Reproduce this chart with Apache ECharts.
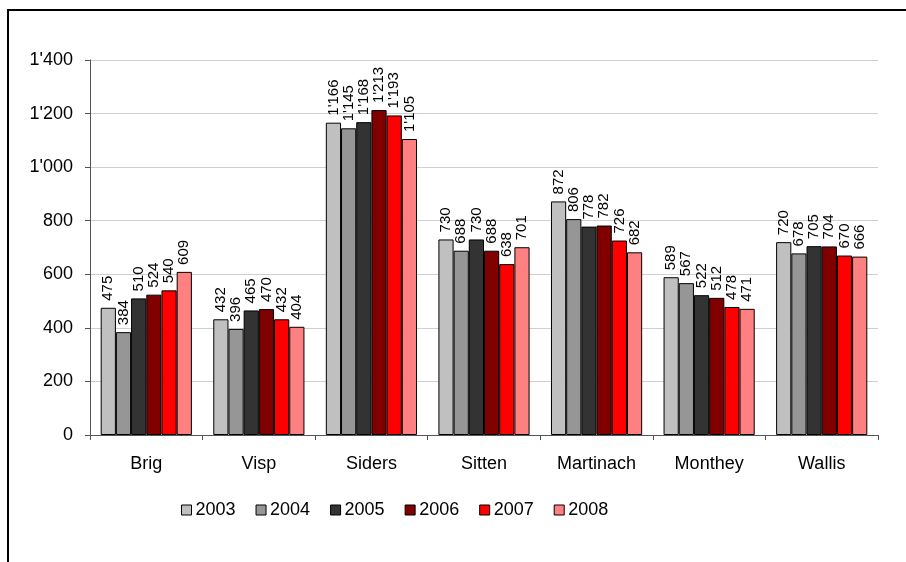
<!DOCTYPE html>
<html>
<head>
<meta charset="utf-8">
<script src="https://cdn.jsdelivr.net/npm/echarts@6/dist/echarts.min.js"></script>
<style>
  html, body { margin: 0; padding: 0; background: #fff; }
  #chart { width: 906px; height: 562px; }
</style>
</head>
<body>
<div id="chart"></div>
<script>
// Regions (x axis)
const regions = ['Brig', 'Visp', 'Siders', 'Sitten', 'Martinach', 'Monthey', 'Wallis'];

// Years (legend)
const years = ['2003', '2004', '2005', '2006', '2007', '2008'];

// Values per year, one entry per region
const v2003 = [475, 432, 1166, 730, 872, 589, 720];
const v2004 = [384, 396, 1145, 688, 806, 567, 678];
const v2005 = [510, 465, 1168, 730, 778, 522, 705];
const v2006 = [524, 470, 1213, 688, 782, 512, 704];
const v2007 = [540, 432, 1193, 638, 726, 478, 670];
const v2008 = [609, 404, 1105, 701, 682, 471, 666];

const yearColors = ['#c0c0c0', '#969696', '#333333', '#800000', '#ff0000', '#ff8080'];

// 1'234 style thousands separator
function fmt(n) {
  return String(n).replace(/\B(?=(\d{3})+(?!\d))/g, "'");
}

const allValues = [v2003, v2004, v2005, v2006, v2007, v2008];

const chart = echarts.init(document.getElementById('chart'), null, { renderer: 'canvas' });

const series = years.map((y, i) => ({
  name: y,
  type: 'bar',
  data: allValues[i],
  barGap: '0%',
  barCategoryGap: '19%',
  itemStyle: {
    color: yearColors[i],
    borderColor: '#000',
    borderWidth: 1
  },
  label: {
    show: true,
    position: 'top',
    rotate: 90,
    align: 'left',
    verticalAlign: 'middle',
    distance: 7,
    fontFamily: 'Liberation Sans, Arial, sans-serif',
    fontSize: 15,
    color: '#000',
    formatter: p => fmt(p.value)
  }
}));

const option = {
  backgroundColor: '#fff',
  animation: false,
  graphic: [
    {
      type: 'rect',
      shape: { x: 8, y: 10, width: 2000, height: 2000 },
      style: { fill: 'none', stroke: '#000', lineWidth: 2 },
      z: 100
    }
  ],
  legend: {
    data: years,
    left: 176,
    top: 496,
    itemWidth: 10,
    itemHeight: 10,
    itemGap: 20,
    icon: 'rect',
    itemStyle: { borderColor: '#000', borderWidth: 1 },
    textStyle: {
      fontFamily: 'Liberation Sans, Arial, sans-serif',
      fontSize: 18,
      color: '#000',
      padding: [0, 0, 0, -1]
    }
  },
  grid: {
    left: 90,
    right: 28,
    top: 60,
    bottom: 127,
    containLabel: false
  },
  xAxis: {
    type: 'category',
    data: regions,
    axisLine: { lineStyle: { color: '#555', width: 1 } },
    axisTick: { show: true, length: 5, lineStyle: { color: '#555' } },
    axisLabel: {
      margin: 20,
      fontFamily: 'Liberation Sans, Arial, sans-serif',
      fontSize: 18,
      color: '#000'
    }
  },
  yAxis: {
    type: 'value',
    min: 0,
    max: 1400,
    interval: 200,
    axisLine: { show: true, lineStyle: { color: '#555', width: 1 } },
    axisTick: { show: true, length: 5, lineStyle: { color: '#555' } },
    axisLabel: {
      margin: 17,
      fontFamily: 'Liberation Sans, Arial, sans-serif',
      fontSize: 18,
      color: '#000',
      formatter: v => fmt(v)
    },
    splitLine: { lineStyle: { color: '#cfcfcf', width: 1 } }
  },
  series: series
};

chart.setOption(option);
</script>
</body>
</html>
